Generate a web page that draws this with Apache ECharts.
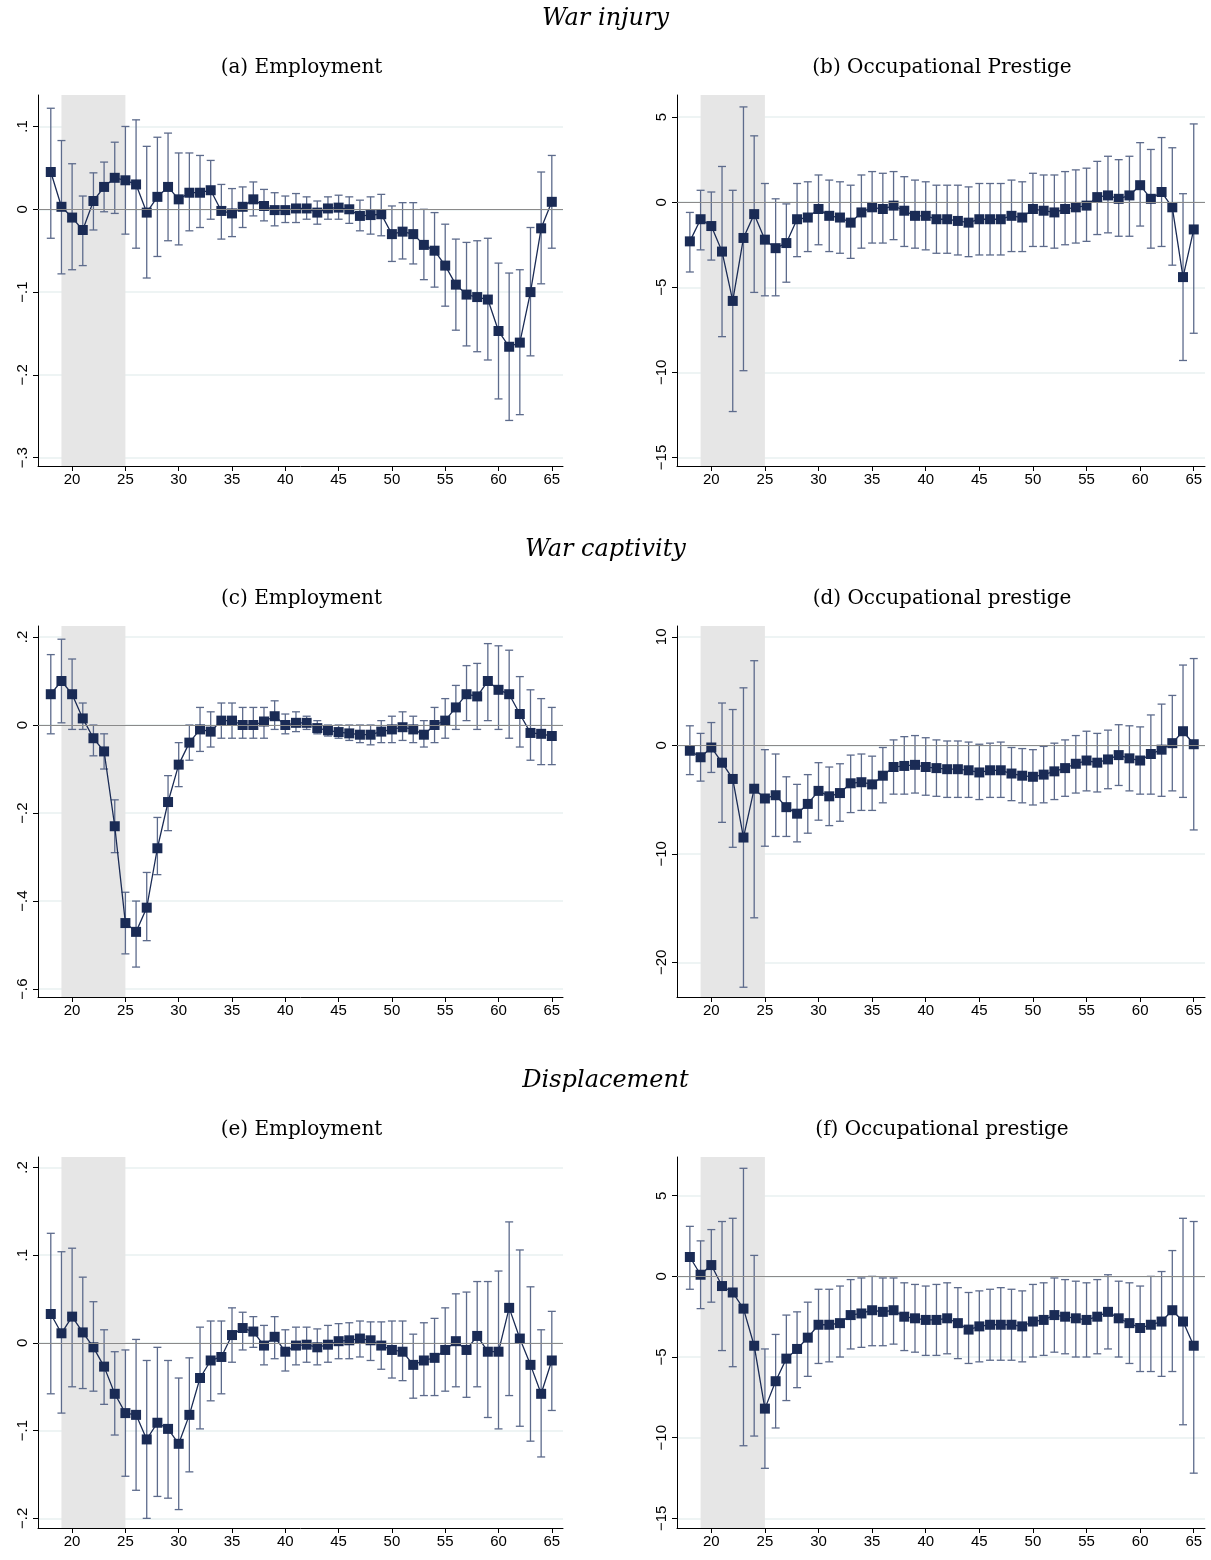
<!DOCTYPE html>
<html>
<head>
<meta charset="utf-8">
<script src="https://cdn.jsdelivr.net/npm/echarts@6/dist/echarts.min.js"></script>
<style>
html, body { margin: 0; padding: 0; background: #fff; }
#main { width: 1211px; height: 1560px; }
</style>
</head>
<body>
<div id="main"></div>
<script>
var ages = [];
for (var a = 18; a <= 65; a++) ages.push(a);

// (a) War injury - Employment
var aEst = [0.045,0.003,-0.01,-0.025,0.01,0.027,0.038,0.035,0.03,-0.004,0.015,0.027,0.012,0.02,0.02,0.023,-0.002,-0.005,0.003,0.012,0.004,-0.001,-0.001,0.001,0.001,-0.004,0.001,0.002,0,-0.008,-0.007,-0.006,-0.03,-0.027,-0.03,-0.043,-0.05,-0.068,-0.091,-0.103,-0.106,-0.109,-0.147,-0.166,-0.161,-0.1,-0.023,0.009];
var aLo = [-0.035,-0.078,-0.073,-0.068,-0.025,-0.003,-0.005,-0.03,-0.047,-0.083,-0.057,-0.038,-0.043,-0.026,-0.022,-0.012,-0.036,-0.033,-0.022,-0.008,-0.014,-0.02,-0.016,-0.016,-0.012,-0.018,-0.012,-0.012,-0.017,-0.026,-0.03,-0.032,-0.063,-0.06,-0.066,-0.085,-0.094,-0.117,-0.146,-0.165,-0.172,-0.182,-0.229,-0.255,-0.248,-0.177,-0.09,-0.047];
var aHi = [0.122,0.083,0.055,0.016,0.044,0.057,0.081,0.1,0.108,0.076,0.087,0.092,0.068,0.068,0.065,0.059,0.03,0.025,0.027,0.033,0.024,0.02,0.016,0.019,0.015,0.01,0.015,0.017,0.015,0.011,0.015,0.018,0.004,0.008,0.008,0,-0.004,-0.018,-0.036,-0.04,-0.038,-0.035,-0.065,-0.077,-0.073,-0.022,0.045,0.065];

// (b) War injury - Occupational prestige
var bEst = [-2.3,-1.0,-1.4,-2.9,-5.8,-2.1,-0.7,-2.2,-2.7,-2.4,-1.0,-0.9,-0.4,-0.8,-0.9,-1.2,-0.6,-0.3,-0.4,-0.2,-0.5,-0.8,-0.8,-1.0,-1.0,-1.1,-1.2,-1.0,-1.0,-1.0,-0.8,-0.9,-0.4,-0.5,-0.6,-0.4,-0.3,-0.2,0.3,0.4,0.2,0.4,1.0,0.2,0.6,-0.3,-4.4,-1.6];
var bLo = [-4.1,-2.8,-3.4,-7.9,-12.3,-9.9,-5.3,-5.5,-5.5,-4.7,-3.2,-2.9,-2.5,-2.9,-3.0,-3.3,-2.7,-2.4,-2.4,-2.2,-2.6,-2.7,-2.8,-3.0,-3.0,-3.1,-3.2,-3.1,-3.1,-3.1,-2.9,-2.9,-2.6,-2.6,-2.7,-2.5,-2.4,-2.3,-1.9,-1.8,-2.0,-2.0,-1.4,-2.7,-2.6,-3.7,-9.3,-7.7];
var bHi = [-0.6,0.7,0.6,2.1,0.7,5.6,3.9,1.1,0.2,-0.1,1.1,1.2,1.6,1.3,1.2,1.0,1.6,1.8,1.7,1.8,1.5,1.3,1.2,1.0,1.0,1.0,0.9,1.1,1.1,1.1,1.3,1.2,1.7,1.6,1.6,1.8,1.9,2.0,2.4,2.7,2.5,2.7,3.5,3.1,3.8,3.2,0.5,4.6];

// (c) War captivity - Employment
var cEst = [0.07,0.1,0.07,0.015,-0.03,-0.06,-0.23,-0.45,-0.47,-0.415,-0.28,-0.175,-0.09,-0.04,-0.01,-0.015,0.01,0.01,0,0,0.008,0.02,0,0.005,0.005,-0.007,-0.012,-0.016,-0.019,-0.022,-0.022,-0.015,-0.01,-0.005,-0.01,-0.022,0,0.01,0.04,0.07,0.065,0.1,0.08,0.07,0.025,-0.018,-0.02,-0.025];
var cLo = [-0.02,0.005,-0.01,-0.01,-0.07,-0.1,-0.29,-0.52,-0.55,-0.49,-0.34,-0.24,-0.14,-0.08,-0.06,-0.05,-0.03,-0.03,-0.03,-0.03,-0.03,-0.01,-0.02,-0.015,-0.01,-0.02,-0.025,-0.03,-0.035,-0.04,-0.045,-0.04,-0.04,-0.035,-0.04,-0.05,-0.04,-0.03,-0.01,0.01,-0.01,0.01,-0.01,-0.03,-0.05,-0.08,-0.09,-0.09];
var cHi = [0.16,0.195,0.15,0.05,0,-0.02,-0.17,-0.38,-0.4,-0.335,-0.21,-0.115,-0.04,0,0.04,0.03,0.05,0.05,0.04,0.04,0.04,0.055,0.025,0.03,0.02,0.01,0,0,0,0,0,0.01,0.02,0.03,0.02,0.01,0.04,0.06,0.09,0.135,0.14,0.185,0.18,0.17,0.11,0.08,0.06,0.04];

// (d) War captivity - Occupational prestige
var dEst = [-0.5,-1.1,-0.2,-1.6,-3.1,-8.5,-4.0,-4.9,-4.6,-5.7,-6.3,-5.4,-4.2,-4.7,-4.4,-3.5,-3.4,-3.6,-2.8,-2.0,-1.9,-1.8,-2.0,-2.1,-2.2,-2.2,-2.3,-2.5,-2.3,-2.3,-2.6,-2.8,-2.9,-2.7,-2.4,-2.1,-1.7,-1.4,-1.6,-1.3,-0.9,-1.2,-1.4,-0.8,-0.4,0.2,1.3,0.1];
var dLo = [-2.7,-3.3,-2.5,-7.1,-9.4,-22.3,-15.9,-9.3,-8.4,-8.4,-8.9,-8.1,-6.9,-7.4,-7.0,-6.2,-6.0,-6.0,-5.3,-4.5,-4.5,-4.4,-4.6,-4.7,-4.8,-4.8,-4.8,-5.0,-4.8,-4.8,-5.1,-5.3,-5.5,-5.3,-5.0,-4.7,-4.4,-4.2,-4.3,-4.0,-3.7,-4.2,-4.5,-4.5,-4.7,-4.2,-4.8,-7.8];
var dHi = [1.8,1.1,2.1,3.9,3.3,5.3,7.8,-0.4,-0.8,-2.9,-3.6,-2.7,-1.6,-2.0,-1.7,-0.9,-0.8,-1.0,-0.2,0.5,0.8,0.9,0.7,0.5,0.4,0.4,0.3,0.1,0.2,0.3,-0.2,-0.3,-0.4,-0.1,0.2,0.5,0.9,1.3,1.1,1.4,1.9,1.8,1.7,2.8,3.8,4.6,7.4,8.0];

// (e) Displacement - Employment
var eEst = [0.033,0.011,0.03,0.012,-0.005,-0.027,-0.058,-0.08,-0.082,-0.11,-0.091,-0.098,-0.115,-0.082,-0.04,-0.02,-0.016,0.009,0.017,0.013,-0.003,0.007,-0.01,-0.003,-0.002,-0.005,-0.002,0.002,0.003,0.005,0.003,-0.003,-0.008,-0.01,-0.025,-0.02,-0.017,-0.008,0.002,-0.008,0.008,-0.01,-0.01,0.04,0.005,-0.025,-0.058,-0.02];
var eLo = [-0.058,-0.08,-0.05,-0.052,-0.055,-0.07,-0.105,-0.152,-0.168,-0.2,-0.175,-0.177,-0.19,-0.147,-0.098,-0.066,-0.058,-0.022,-0.008,-0.005,-0.025,-0.018,-0.032,-0.025,-0.022,-0.025,-0.022,-0.018,-0.018,-0.016,-0.02,-0.03,-0.04,-0.043,-0.063,-0.06,-0.06,-0.055,-0.05,-0.062,-0.05,-0.085,-0.098,-0.06,-0.095,-0.112,-0.13,-0.077];
var eHi = [0.125,0.104,0.108,0.075,0.047,0.015,-0.01,-0.008,0.004,-0.02,-0.005,-0.02,-0.04,-0.017,0.018,0.025,0.025,0.04,0.035,0.03,0.02,0.03,0.015,0.018,0.018,0.016,0.02,0.022,0.023,0.025,0.024,0.024,0.025,0.025,0.01,0.023,0.028,0.04,0.056,0.058,0.07,0.07,0.082,0.138,0.106,0.064,0.015,0.036];

// (f) Displacement - Occupational prestige
var fEst = [1.2,0.1,0.7,-0.6,-1.0,-2.0,-4.3,-8.2,-6.5,-5.1,-4.5,-3.8,-3.0,-3.0,-2.9,-2.4,-2.3,-2.1,-2.2,-2.1,-2.5,-2.6,-2.7,-2.7,-2.6,-2.9,-3.3,-3.1,-3.0,-3.0,-3.0,-3.1,-2.8,-2.7,-2.4,-2.5,-2.6,-2.7,-2.5,-2.2,-2.6,-2.9,-3.2,-3.0,-2.8,-2.1,-2.8,-4.3];
var fLo = [-0.8,-2.0,-1.6,-4.6,-5.6,-10.5,-9.9,-11.9,-9.4,-7.7,-6.9,-6.2,-5.4,-5.3,-5.0,-4.5,-4.4,-4.3,-4.3,-4.2,-4.6,-4.7,-4.9,-4.9,-4.8,-5.1,-5.4,-5.3,-5.2,-5.2,-5.2,-5.3,-5.0,-4.9,-4.7,-4.8,-5.0,-5.0,-4.8,-4.5,-5.0,-5.4,-5.9,-5.9,-6.2,-5.9,-9.2,-12.2];
var fHi = [3.1,2.2,2.9,3.4,3.6,6.7,1.3,-4.5,-3.6,-2.4,-2.2,-1.6,-0.8,-0.8,-0.6,-0.2,-0.1,0.0,-0.1,-0.1,-0.4,-0.5,-0.6,-0.5,-0.4,-0.7,-1.0,-0.9,-0.8,-0.7,-0.8,-0.9,-0.5,-0.4,-0.1,-0.2,-0.3,-0.4,-0.2,0.1,-0.3,-0.4,-0.6,0.0,0.3,1.6,3.6,3.4];

var xTicks = [20, 25, 30, 35, 40, 45, 50, 55, 60, 65];
var rowTitles = ['War injury', 'War captivity', 'Displacement'];
var panelTitles = ['(a) Employment', '(b) Occupational Prestige', '(c) Employment', '(d) Occupational prestige', '(e) Employment', '(f) Occupational prestige'];

var panels = [
    { est: aEst, lo: aLo, hi: aHi, min: -0.31, max: 0.138, ticks: [-0.3, -0.2, -0.1, 0, 0.1] },
    { est: bEst, lo: bLo, hi: bHi, min: -15.5, max: 6.3, ticks: [-15, -10, -5, 0, 5] },
    { est: cEst, lo: cLo, hi: cHi, min: -0.618, max: 0.225, ticks: [-0.6, -0.4, -0.2, 0, 0.2] },
    { est: dEst, lo: dLo, hi: dHi, min: -23.2, max: 11.0, ticks: [-20, -10, 0, 10] },
    { est: eEst, lo: eLo, hi: eHi, min: -0.211, max: 0.212, ticks: [-0.2, -0.1, 0, 0.1, 0.2] },
    { est: fEst, lo: fLo, hi: fHi, min: -15.6, max: 7.4, ticks: [-15, -10, -5, 0, 5] }
];

var rowTop = [95, 626, 1157];
var plotH = 371;
var navy = '#1a2b55';
var barColor = '#5d6b8c';

function stataLabel(v) {
    var s = String(Math.round(v * 1000) / 1000);
    s = s.replace(/^0\./, '.').replace(/^-0\./, '-.');
    return s.replace('-', '\u2212');
}

var grids = [], xAxes = [], yAxes = [], series = [], titles = [];

for (var r = 0; r < 3; r++) {
    titles.push({
        text: rowTitles[r], left: 'center', top: rowTop[r] - 95 + 2,
        textStyle: { fontFamily: 'DejaVu Serif', fontStyle: 'italic', fontWeight: 'normal', fontSize: 24, color: '#000' }
    });
}

panels.forEach(function (p, i) {
    var row = Math.floor(i / 2), col = i % 2;
    var left = col === 0 ? 38 : 677;
    var width = col === 0 ? 525 : 528;
    grids.push({ left: left, top: rowTop[row], width: width, height: plotH });
    titles.push({
        text: panelTitles[i], left: left + width / 2 - 4, top: rowTop[row] - 42, textAlign: 'center',
        textStyle: { fontFamily: 'DejaVu Serif', fontWeight: 'normal', fontSize: 20, color: '#000' }
    });
    xAxes.push({
        type: 'value', gridIndex: i, min: 16.8, max: 66.05,
        axisLine: { onZero: false, lineStyle: { color: '#000', width: 1 } },
        axisTick: { show: true, length: 5, lineStyle: { color: '#000' }, customValues: xTicks },
        axisLabel: { color: '#000', fontSize: 15, fontFamily: 'Liberation Sans', margin: 6, customValues: xTicks },
        splitLine: { show: false }
    });
    yAxes.push({
        type: 'value', gridIndex: i, min: p.min, max: p.max,
        axisLine: { show: true, onZero: false, lineStyle: { color: '#000', width: 1 } },
        axisTick: { show: true, length: 5, lineStyle: { color: '#000' }, customValues: p.ticks },
        axisLabel: { color: '#000', fontSize: 15, fontFamily: 'Liberation Sans', rotate: 90, margin: 8,
            customValues: p.ticks, formatter: stataLabel },
        splitLine: { show: true, lineStyle: { color: '#e8f0f1', width: 1.5 }, customValues: p.ticks }
    });
    var pts = ages.map(function (a, k) { return [a, p.est[k]]; });
    var bars = ages.map(function (a, k) { return [a, p.lo[k], p.hi[k]]; });
    series.push({
        type: 'custom', xAxisIndex: i, yAxisIndex: i, data: bars, silent: true, z: 2,
        renderItem: function (params, api) {
            var top = api.coord([api.value(0), api.value(2)]);
            var bot = api.coord([api.value(0), api.value(1)]);
            var st = { stroke: barColor, lineWidth: 1.3 };
            return {
                type: 'group', children: [
                    { type: 'line', shape: { x1: top[0], y1: top[1], x2: bot[0], y2: bot[1] }, style: st },
                    { type: 'line', shape: { x1: top[0] - 4, y1: top[1], x2: top[0] + 4, y2: top[1] }, style: st },
                    { type: 'line', shape: { x1: bot[0] - 4, y1: bot[1], x2: bot[0] + 4, y2: bot[1] }, style: st }
                ]
            };
        }
    });
    series.push({
        type: 'line', xAxisIndex: i, yAxisIndex: i, data: pts, z: 3,
        symbol: 'rect', symbolSize: 10, showSymbol: true,
        lineStyle: { color: navy, width: 1.3 }, itemStyle: { color: navy },
        markArea: {
            silent: true, z: 0,
            itemStyle: { color: '#e6e6e6' },
            data: [[{ xAxis: 19 }, { xAxis: 25 }]]
        },
        markLine: {
            silent: true, symbol: 'none', label: { show: false },
            lineStyle: { color: '#8a8a8a', width: 1, type: 'solid' },
            data: [{ yAxis: 0 }]
        }
    });
});

var myChart = echarts.init(document.getElementById('main'));
myChart.setOption({
    animation: false,
    backgroundColor: '#fff',
    title: titles,
    grid: grids,
    xAxis: xAxes,
    yAxis: yAxes,
    series: series
});
</script>
</body>
</html>
